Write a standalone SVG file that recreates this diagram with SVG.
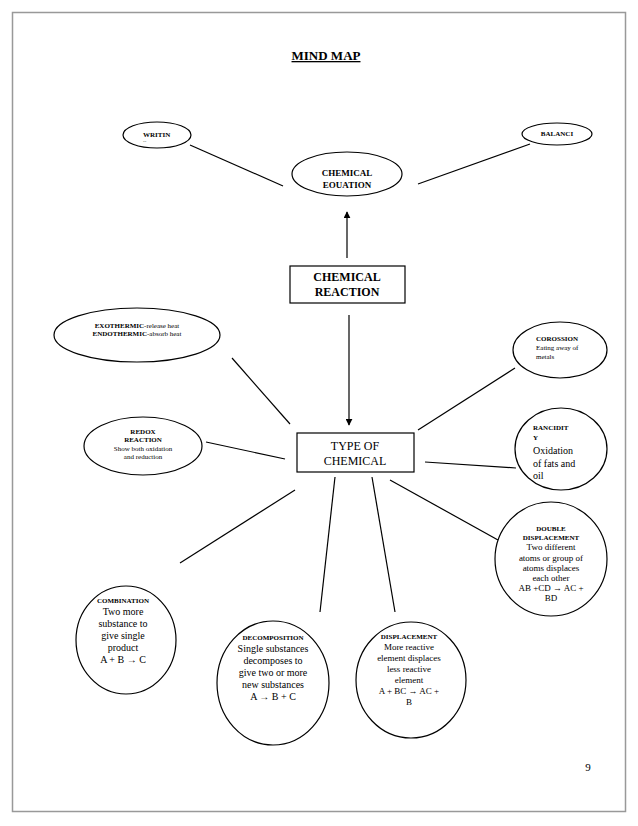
<svg xmlns="http://www.w3.org/2000/svg" width="638" height="826" viewBox="0 0 638 826">
<style>
text{font-family:"Liberation Serif","Times New Roman",serif;fill:#000}
.n{fill:#fff;stroke:#000;stroke-width:1.2}
.c{stroke:#000;stroke-width:1.2;fill:none}
.b{font-weight:bold}
.m{text-anchor:middle}
</style>
<defs>
<marker id="ah" viewBox="0 0 10 10" refX="9" refY="5" markerWidth="7" markerHeight="7" orient="auto-start-reverse" markerUnits="userSpaceOnUse">
<path d="M0,0 L10,5 L0,10 z" fill="#000"/>
</marker>
</defs>
<rect x="0" y="0" width="638" height="826" fill="#fff"/>
<rect x="12.5" y="12.5" width="613" height="799" fill="none" stroke="#999" stroke-width="1.5"/>
<text x="326" y="60" class="b m" font-size="13" text-decoration="underline">MIND MAP</text>
<g id="connectors">
<line class="c" x1="190" y1="145" x2="283" y2="186"/>
<line class="c" x1="530" y1="144" x2="418" y2="184"/>
<line class="c" x1="347" y1="258" x2="347" y2="212" marker-end="url(#ah)"/>
<line class="c" x1="349" y1="315" x2="349" y2="425" marker-end="url(#ah)"/>
<line class="c" x1="232" y1="358" x2="290" y2="424"/>
<line class="c" x1="206" y1="442" x2="285" y2="459"/>
<line class="c" x1="515" y1="368" x2="418" y2="430"/>
<line class="c" x1="425" y1="462" x2="516" y2="468"/>
<line class="c" x1="390" y1="480" x2="498" y2="540"/>
<line class="c" x1="180" y1="563" x2="295" y2="490"/>
<line class="c" x1="335" y1="477" x2="320" y2="612"/>
<line class="c" x1="372" y1="477" x2="395" y2="612"/>
</g>
<g id="writing">
<ellipse class="n" cx="157" cy="135" rx="34" ry="13"/>
<text x="143" y="137" class="b" font-size="7">WRITIN</text>
<text x="143" y="143" font-size="5">--</text>
</g>
<g id="balancing">
<ellipse class="n" cx="557" cy="134" rx="35" ry="11"/>
<text x="557" y="136" class="b m" font-size="7">BALANCI</text>
</g>
<g id="chemical-equation">
<ellipse class="n" cx="347" cy="174" rx="55" ry="22"/>
<text x="347" y="176" class="b m" font-size="9">CHEMICAL</text>
<text x="347" y="188" class="b m" font-size="9">EOUATION</text>
</g>
<g id="chemical-reaction">
<rect class="n" x="290" y="266" width="115" height="37"/>
<text x="347" y="281" class="b m" font-size="12">CHEMICAL</text>
<text x="347" y="296" class="b m" font-size="12">REACTION</text>
</g>
<g id="type-of-chemical">
<rect class="n" x="297" y="433" width="117" height="39"/>
<text x="355" y="450" class="m" font-size="12">TYPE OF</text>
<text x="355" y="465" class="m" font-size="12">CHEMICAL</text>
</g>
<g id="exothermic">
<ellipse class="n" cx="137" cy="335" rx="83" ry="27"/>
<text x="137" y="328" class="m" font-size="7"><tspan class="b">EXOTHERMIC</tspan>-release heat</text>
<text x="137" y="336" class="m" font-size="7"><tspan class="b">ENDOTHERMIC</tspan>-absorb heat</text>
</g>
<g id="redox">
<ellipse class="n" cx="143" cy="446" rx="59" ry="29"/>
<text x="143" y="434" class="b m" font-size="7">REDOX</text>
<text x="143" y="442" class="b m" font-size="7">REACTION</text>
<text x="143" y="451" class="m" font-size="7">Show both oxidation</text>
<text x="143" y="459" class="m" font-size="7">and reduction</text>
</g>
<g id="corrosion">
<ellipse class="n" cx="560" cy="350" rx="47" ry="28"/>
<text x="536" y="341" class="b" font-size="7">COROSSION</text>
<text x="536" y="350" font-size="7">Eating away of</text>
<text x="536" y="359" font-size="7">metals</text>
</g>
<g id="rancidity">
<ellipse class="n" cx="561" cy="449" rx="46" ry="41"/>
<text x="533" y="430" class="b" font-size="7">RANCIDIT</text>
<text x="533" y="440" class="b" font-size="7">Y</text>
<text x="533" y="454" font-size="10">Oxidation</text>
<text x="533" y="467" font-size="10">of fats and</text>
<text x="533" y="479" font-size="10">oil</text>
</g>
<g id="double-displacement">
<ellipse class="n" cx="551" cy="559" rx="56" ry="57"/>
<text x="551" y="531" class="b m" font-size="7">DOUBLE</text>
<text x="551" y="540" class="b m" font-size="7">DISPLACEMENT</text>
<text x="551" y="550" class="m" font-size="9">Two different</text>
<text x="551" y="561" class="m" font-size="9">atoms or group of</text>
<text x="551" y="571" class="m" font-size="9">atoms displaces</text>
<text x="551" y="581" class="m" font-size="9">each other</text>
<text x="551" y="591" class="m" font-size="9">AB +CD → AC +</text>
<text x="551" y="601" class="m" font-size="9">BD</text>
</g>
<g id="combination">
<ellipse class="n" cx="126" cy="640" rx="50" ry="54"/>
<text x="123" y="603" class="b m" font-size="7">COMBINATION</text>
<text x="123" y="615" class="m" font-size="10">Two more</text>
<text x="123" y="627" class="m" font-size="10">substance to</text>
<text x="123" y="639" class="m" font-size="10">give single</text>
<text x="123" y="651" class="m" font-size="10">product</text>
<text x="123" y="663" class="m" font-size="10">A + B → C</text>
</g>
<g id="decomposition">
<ellipse class="n" cx="273" cy="683" rx="56" ry="62"/>
<text x="273" y="640" class="b m" font-size="7">DECOMPOSITION</text>
<text x="273" y="652" class="m" font-size="10">Single substances</text>
<text x="273" y="664" class="m" font-size="10">decomposes to</text>
<text x="273" y="676" class="m" font-size="10">give two or more</text>
<text x="273" y="688" class="m" font-size="10">new substances</text>
<text x="273" y="700" class="m" font-size="10">A → B + C</text>
</g>
<g id="displacement">
<ellipse class="n" cx="411" cy="680" rx="55" ry="58"/>
<text x="409" y="639" class="b m" font-size="7">DISPLACEMENT</text>
<text x="409" y="650" class="m" font-size="9">More reactive</text>
<text x="409" y="661" class="m" font-size="9">element displaces</text>
<text x="409" y="672" class="m" font-size="9">less reactive</text>
<text x="409" y="683" class="m" font-size="9">element</text>
<text x="409" y="694" class="m" font-size="9">A + BC → AC +</text>
<text x="409" y="705" class="m" font-size="9">B</text>
</g>
<text x="588" y="771" class="m" font-size="11">9</text>
</svg>
